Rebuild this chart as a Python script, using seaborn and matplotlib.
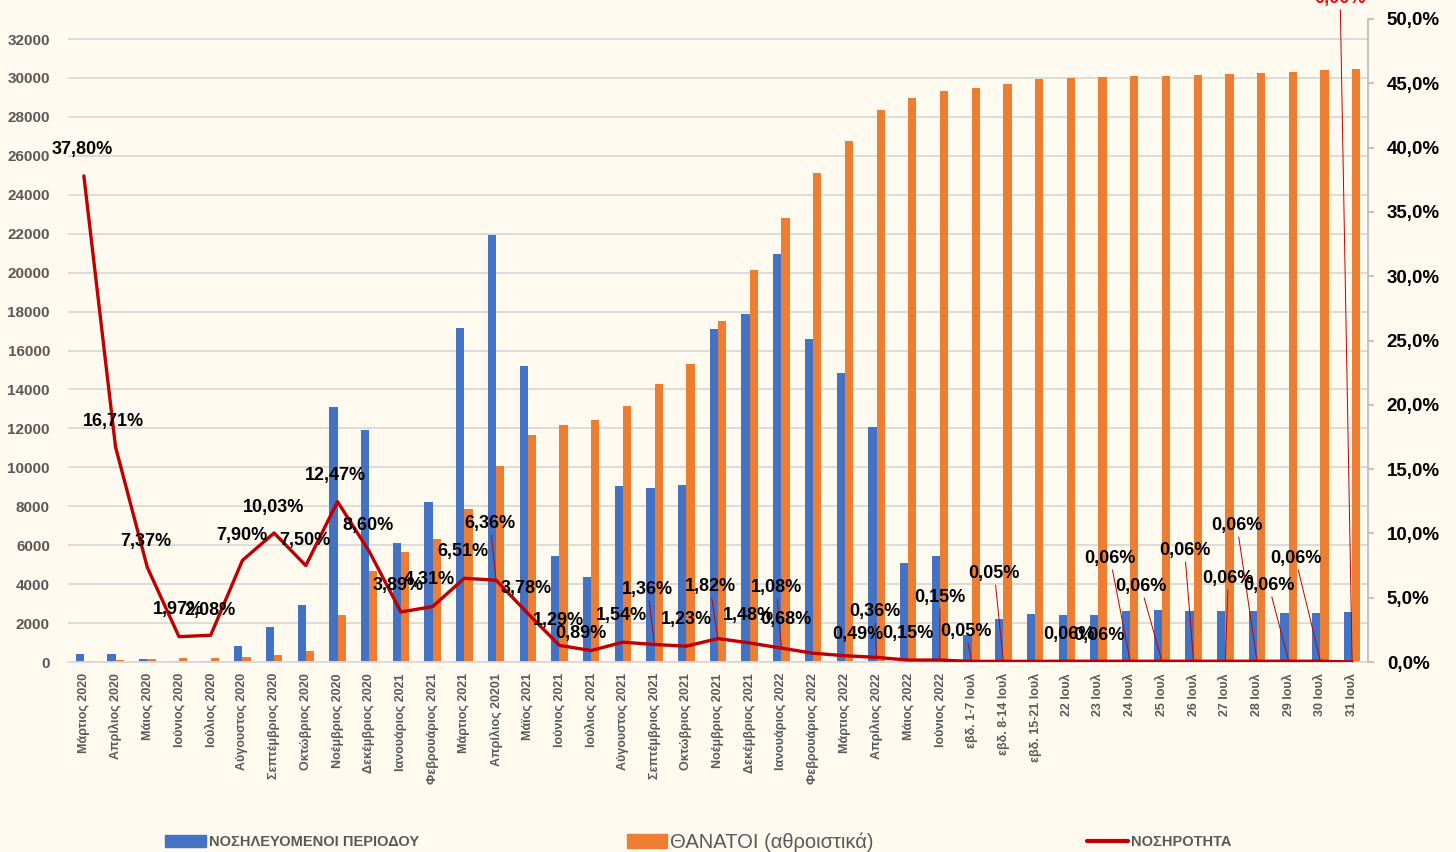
import numpy as np
import pandas as pd
import matplotlib.pyplot as plt
import seaborn as sns
from matplotlib.lines import Line2D
from matplotlib.patches import Patch

# δεδομένα
categories = ['Μάρτιος 2020', 'Απρίλιος 2020', 'Μάιος 2020', 'Ιούνιος 2020', 'Ιούλιος 2020',
              'Αύγουστος 2020', 'Σεπτέμβριος 2020', 'Οκτώβριος 2020', 'Νοέμβριος 2020',
              'Δεκέμβριος 2020', 'Ιανουάριος 2021', 'Φεβρουάριος 2021', 'Μάρτιος 2021',
              'Απρίλιος 20201', 'Μάϊος 2021', 'Ιούνιος 2021', 'Ιούλιος 2021', 'Αύγουστος 2021',
              'Σεπτέμβριος 2021', 'Οκτώβριος 2021', 'Νοέμβριος 2021', 'Δεκέμβριος 2021',
              'Ιανουάριος 2022', 'Φεβρουάριος 2022', 'Μάρτιος 2022', 'Απρίλιος 2022',
              'Μάιος 2022', 'Ιούνιος 2022', 'εβδ. 1-7 Ιουλ', 'εβδ. 8-14 Ιουλ', 'εβδ. 15-21 Ιουλ',
              '22 Ιουλ', '23 Ιουλ', '24 Ιουλ', '25 Ιουλ', '26 Ιουλ', '27 Ιουλ', '28 Ιουλ',
              '29 Ιουλ', '30 Ιουλ', '31 Ιουλ']
hospitalized = [410, 410, 170, 60, 70, 800, 1810, 2910, 13110, 11920, 6100, 8200, 17150,
                21930, 15200, 5440, 4370, 9040, 8940, 9090, 17100, 17870, 20950, 16590,
                14840, 12070, 5080, 5440, 1390, 2210, 2465, 2400, 2400, 2635, 2670, 2635,
                2635, 2600, 2515, 2515, 2570]
deaths_cum = [30, 100, 170, 180, 200, 260, 380, 580, 2400, 4690, 5630, 6320, 7875, 10050,
              11660, 12170, 12430, 13150, 14280, 15300, 17510, 20130, 22800, 25110, 26760,
              28350, 28970, 29330, 29480, 29690, 29940, 29990, 30050, 30100, 30120, 30150,
              30200, 30280, 30330, 30400, 30480]
rate = [37.80, 16.71, 7.37, 1.97, 2.08, 7.90, 10.03, 7.50, 12.47, 8.60, 3.89, 4.31, 6.51,
        6.36, 3.78, 1.29, 0.89, 1.54, 1.36, 1.23, 1.82, 1.48, 1.08, 0.68, 0.49, 0.36, 0.15,
        0.15, 0.05, 0.05, 0.05, 0.06, 0.06, 0.06, 0.06, 0.06, 0.06, 0.06, 0.06, 0.06, 0.00]
series_names = ['ΝΟΣΗΛΕΥΟΜΕΝΟΙ ΠΕΡΙΟΔΟΥ', 'ΘΑΝΑΤΟΙ (αθροιστικά)']
line_name = 'ΝΟΣΗΡΟΤΗΤΑ'

# θέσεις ετικετών (offset σε pixels, leader line)
label_offsets = [(-2, 26, 0), (-2, 26, 0), (-1, 26, 0), (-1, 27, 0), (-1, 25, 0), (-1, 25, 0),
                 (-1, 26, 0), (-1, 25, 0), (-2, 26, 0), (-1, 26, 0), (-3, 26, 0), (-3, 27, 0),
                 (-1, 27, 0), (-6, 57, 1), (-2, 25, 0), (-1, 25, 0), (-10, 17, 0), (-1, 27, 0),
                 (-7, 55, 1), (0, 27, 0), (-8, 52, 1), (-1, 27, 0), (-5, 61, 1), (-27, 34, 0),
                 (13, 21, 0), (-2, 46, 1), (0, 27, 0), (0, 63, 1), (-6, 30, 1), (-9, 88, 1),
                 None, (2, 27, 0), (0, 26, 0), (-20, 103, 1), (-21, 75, 1), (-9, 111, 1),
                 (3, 83, 1), (-20, 136, 1), (-20, 76, 1), (-25, 103, 1), (-12, 664, 1)]

blue = '#4472C4'
orange = '#ED7D31'
red = '#C00000'
bg = '#FEFAEF'
grey = '#595959'

sns.set_theme(style='white')
plt.rcParams['font.family'] = ['Liberation Sans', 'DejaVu Sans']

n = len(categories)
df = pd.DataFrame({
    'cat': categories * 2,
    'series': [series_names[0]] * n + [series_names[1]] * n,
    'value': hospitalized + deaths_cum,
})

fig = plt.figure(figsize=(14.56, 8.52), dpi=100, facecolor=bg)
ax = fig.add_axes([68 / 1456, 1 - 662 / 852, 1300 / 1456, 643 / 852])
ax.set_facecolor(bg)

sns.barplot(data=df, x='cat', y='value', hue='series', palette=[blue, orange],
            width=0.52, saturation=1, linewidth=0, ax=ax, legend=False)

ax.set_ylim(0, 33030)
ax.set_yticks(np.arange(0, 32001, 2000))
ax.yaxis.grid(True, color='#D9D9D9', lw=1.3)
ax.set_axisbelow(True)
for s in ['left', 'top', 'right']:
    ax.spines[s].set_visible(False)
ax.spines['bottom'].set_color('#D9D9D9')
ax.spines['bottom'].set_linewidth(1.3)
ax.set_xlabel('')
ax.set_ylabel('')
ax.tick_params(axis='y', length=0, pad=13, labelsize=11, labelcolor=grey)
ax.tick_params(axis='x', length=0, pad=8, labelsize=9, labelcolor=grey)
for t in ax.get_yticklabels():
    t.set_fontweight('bold')
for t in ax.get_xticklabels():
    t.set_rotation(90)
    t.set_fontweight('bold')

ax2 = ax.twinx()
sns.lineplot(x=np.arange(n), y=np.array(rate) / 100, ax=ax2, color=red, lw=2.4)
ax2.set_ylim(0, 0.5)
ax2.set_yticks(np.arange(0, 0.501, 0.05))
ax2.set_yticklabels([f'{v * 100:.1f}%'.replace('.', ',') for v in np.arange(0, 0.501, 0.05)])
for s in ['left', 'top', 'bottom']:
    ax2.spines[s].set_visible(False)
ax2.spines['right'].set_color('#BFBFBF')
ax2.spines['right'].set_linewidth(1.3)
ax2.tick_params(axis='y', length=4.5, width=1.3, color='#BFBFBF', pad=9, labelsize=13.5,
                labelcolor='black')
for t in ax2.get_yticklabels():
    t.set_fontweight('bold')
ax2.set_ylabel('')
ax.set_xlim(-0.5, n - 0.5)

for i, v in enumerate(rate):
    off = label_offsets[i]
    if off is None:
        continue
    dx, dy, leader = off
    col = 'red' if i == n - 1 else 'black'
    props = dict(arrowstyle='-', color=red, lw=0.7, shrinkA=0, shrinkB=0) if leader else None
    ax2.annotate(f'{v:.2f}%'.replace('.', ','), xy=(i, v / 100), xytext=(dx, dy),
                 textcoords='offset pixels', ha='center', va='center', fontsize=13,
                 fontweight='bold', color=col, arrowprops=props, annotation_clip=False)

# υπόμνημα
leg_font = dict(family=['Liberation Sans Narrow', 'Liberation Sans'], weight='bold', size=10.5)
fig.legend(handles=[Patch(color=blue)], labels=[series_names[0]], loc='center left',
           bbox_to_anchor=(165 / 1456, 1 - 842 / 852), frameon=False, prop=leg_font,
           labelcolor=grey, handlelength=2.8, handleheight=0.95, handletextpad=0.2,
           borderpad=0, borderaxespad=0)
fig.legend(handles=[Patch(color=orange)], labels=[series_names[1]], loc='center left',
           bbox_to_anchor=(627 / 1456, 1 - 842 / 852), frameon=False,
           prop=dict(family=['Liberation Sans Narrow', 'Liberation Sans'], size=14.5),
           labelcolor=grey, handlelength=2.0, handleheight=0.7, handletextpad=0.15,
           borderpad=0, borderaxespad=0)
fig.legend(handles=[Line2D([], [], color=red, lw=3)], labels=[line_name], loc='center left',
           bbox_to_anchor=(1087 / 1456, 1 - 842 / 852), frameon=False, prop=leg_font,
           labelcolor=grey, handlelength=2.8, handletextpad=0.2,
           borderpad=0, borderaxespad=0)

fig.savefig('out.png', dpi=100, facecolor=bg)
